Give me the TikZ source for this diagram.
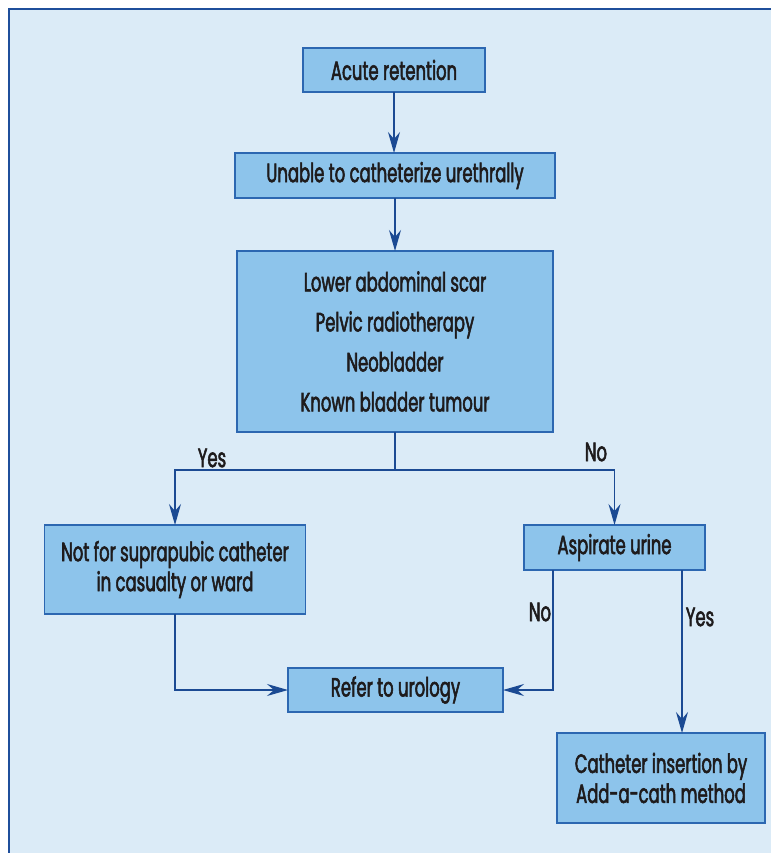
\documentclass[tikz,border=0pt]{standalone}
\usepackage{fontspec}
\setmainfont[FakeStretch=0.62,FakeBold=2]{Poppins}
\usetikzlibrary{arrows.meta}
\definecolor{framefill}{HTML}{DBEBF7}
\definecolor{frameline}{HTML}{1F4F9B}
\definecolor{boxfill}{HTML}{8DC4EB}
\definecolor{boxline}{HTML}{2C67B1}
\definecolor{flowline}{HTML}{1B4A93}
\definecolor{inktext}{HTML}{1E1B1C}
\tikzset{%
    stepbox/.style={inner sep=0pt,outer sep=0pt,shape=rectangle,draw=boxline,fill=boxfill,line width=1.2pt,
        text=inktext,align=center,font=\fontsize{26.5}{40}\selectfont},
    flow/.style={-{Stealth[length=21pt,width=12pt,inset=7pt]},draw=flowline,line width=1.3pt},
    answer/.style={text=inktext,font=\fontsize{26.5}{28}\selectfont},
}
\begin{document}
\begin{tikzpicture}[x=1pt,y=-1pt]
      \useasboundingbox (0,0) rectangle (771,853);
      \fill[framefill] (9,9) rectangle (771,853);
      \draw[frameline,line width=1.5pt] (9,853) -- (9,9) -- (771,9);

      \node [stepbox,minimum width=182pt,minimum height=44pt] (acute) at (394,70) {Acute retention};
      \node [stepbox,minimum width=320pt,minimum height=45pt] (unable) at (395,175.5) {Unable to catheterize urethrally};
      \node [stepbox,minimum width=316pt,minimum height=181pt] (risk) at (395,341.5)
            {Lower abdominal scar\\Pelvic radiotherapy\\Neobladder\\Known bladder tumour};
      \node [stepbox,minimum width=261pt,minimum height=89pt] (notsp) at (175,569.5)
            {Not for suprapubic catheter\\[-10pt]in casualty or ward};
      \node [stepbox,minimum width=181pt,minimum height=45pt] (aspirate) at (614.5,547.5) {Aspirate urine};
      \node [stepbox,minimum width=215pt,minimum height=44pt] (refer) at (395.5,690) {Refer to urology};
      \node [stepbox,minimum width=208pt,minimum height=90pt] (cath) at (661,778)
            {Catheter insertion by\\[-10pt]Add-a-cath method};

      \draw [flow] (acute.south) -- (acute.south |- unable.north);
      \draw [flow] (unable.south) -- (risk.north);

      \coordinate (split) at (395,470);
      \draw [flowline,line width=1.3pt] (risk.south) -- (split);
      \draw [flow] (split) -| (notsp.north);
      \draw [flow] (split) -| (aspirate.north);
      \node [answer] (yes1) at (212,458) {Yes};
      \node [answer] (no1) at (596,452) {No};

      \draw [flow] (notsp.south) |- (refer.west);

      \coordinate (noout) at ([xshift=29pt]aspirate.south west);
      \coordinate (yesout) at ([xshift=-23pt]aspirate.south east);
      \draw [flow] (noout) |- (refer.east);
      \draw [flow] (yesout) -- (yesout |- cath.north);
      \node [answer] (no2) at (540,612) {No};
      \node [answer] (yes2) at (700,617) {Yes};
    \end{tikzpicture}
\end{document}
